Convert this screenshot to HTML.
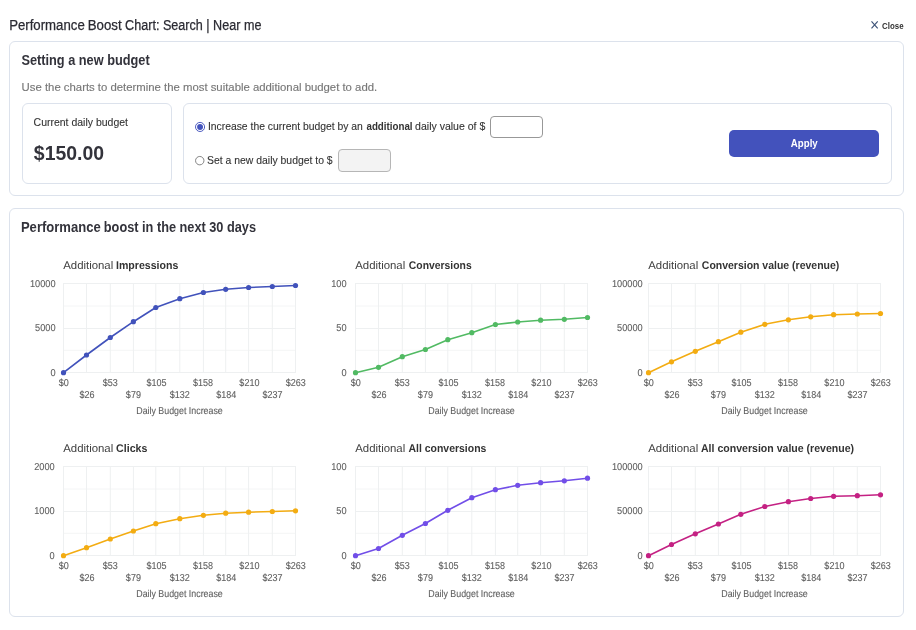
<!DOCTYPE html>
<html lang="en">
<head>
<meta charset="utf-8">
<title>Performance Boost Chart: Search | Near me</title>
<style>
*{box-sizing:border-box;margin:0;padding:0}
h1,h2,p,label{font:inherit}
html,body{width:916px;height:630px;background:#fff;overflow:hidden}
body{position:relative;font-family:"Liberation Sans", Arial, sans-serif;color:#333}
.t{position:absolute;left:0;white-space:nowrap;line-height:20px;height:20px;transform-origin:0 0;display:block;font-style:normal}
.panel{position:absolute;border:1px solid #dce2ec;border-radius:6px;background:#fff}
.box{position:absolute;border:1px solid #dce2ec;border-radius:6px;background:#fff}
.radio{position:absolute}
.inp{position:absolute;display:block;width:53px;height:22px;border:1px solid #989898;border-radius:4px;background:#fff;outline:0;padding:0 4px;font:11px "Liberation Sans",Arial,sans-serif;-webkit-appearance:none;appearance:none;box-shadow:none}
.inp.dis{border-color:#b6b6b6;background:#f3f3f3;height:23px}
.btn{position:absolute;left:729px;top:130px;width:150px;height:27px;border:0;border-radius:5px;background:#4352bc;font:inherit;cursor:pointer}
.charts{position:absolute;left:0;top:0}
.xicon{position:absolute;left:869px;top:19px}
</style>
</head>
<body>
<header>
<h1><span id="t-title-a" class="t" style="top:15px;font-size:14px;font-weight:400;color:#2b2b33;transform:translateX(9.15px) scaleX(0.9434);-webkit-text-stroke:0.25px #2b2b33">Performance</span> <span id="t-title-b" class="t" style="top:15px;font-size:14px;font-weight:400;color:#2b2b33;transform:translateX(87.69px) scaleX(0.9472);-webkit-text-stroke:0.25px #2b2b33">Boost</span> <span id="t-title-c" class="t" style="top:15px;font-size:14px;font-weight:400;color:#2b2b33;transform:translateX(125.11px) scaleX(0.8997);-webkit-text-stroke:0.25px #2b2b33">Chart: Search | Near me</span></h1>
<svg class="xicon" width="12" height="12" viewBox="0 0 12 12"><path d="M2.5 2.4L8.7 9.4M8.7 2.4L2.5 9.4" stroke="#3d5378" stroke-width="1.15" fill="none"/></svg>
<span id="t-close" class="t" style="top:16px;font-size:9px;font-weight:700;color:#333;transform:translateX(882.07px) scaleX(0.8755)">Close</span>
</header>
<section class="panel" style="left:9px;top:41px;width:895px;height:155px"></section>
<h2 id="t-h2a" class="t" style="top:50px;font-size:14px;font-weight:700;color:#33333b;transform:translateX(21.39px) scaleX(0.9110)">Setting a new budget</h2>
<p id="t-desc" class="t" style="top:77px;font-size:11.5px;font-weight:400;color:#787878;transform:translateX(21.61px) scaleX(0.9861);-webkit-text-stroke:0.15px #787878">Use the charts to determine the most suitable additional budget to add.</p>
<div class="box" style="left:22px;top:103px;width:150px;height:81px"></div>
<span id="t-cdb" class="t" style="top:112px;font-size:11px;font-weight:400;color:#333;transform:translateX(33.56px) scaleX(0.9535);-webkit-text-stroke:0.1px #333">Current daily budget</span>
<strong id="t-amt" class="t" style="top:143px;font-size:20px;font-weight:700;color:#33333b;transform:translateX(33.83px) scaleX(0.9712)">$150.00</strong>
<div class="box" style="left:183px;top:103px;width:709px;height:81px"></div>
<svg class="radio" width="14" height="14" viewBox="0 0 14 14" style="left:193px;top:120px"><circle cx="7.05" cy="6.95" r="4.55" fill="#fff" stroke="#4353bd" stroke-width="0.95"/><circle cx="7.05" cy="6.95" r="2.95" fill="#4353bd"/></svg>
<label><span id="t-r1a" class="t" style="top:116px;font-size:11px;font-weight:400;color:#333;transform:translateX(207.89px) scaleX(0.9419);-webkit-text-stroke:0.1px #333">Increase the current budget by an</span> <b id="t-r1b" class="t" style="top:116px;font-size:11px;font-weight:700;color:#333;transform:translateX(366.48px) scaleX(0.8870)">additional</b> <span id="t-r1c" class="t" style="top:116px;font-size:11px;font-weight:400;color:#333;transform:translateX(415.08px) scaleX(0.9572);-webkit-text-stroke:0.1px #333">daily value of $</span></label>
<input class="inp" type="text" aria-label="Additional daily value" style="left:490px;top:116px">
<svg class="radio" width="14" height="14" viewBox="0 0 14 14" style="left:193px;top:154px"><circle cx="6.75" cy="6.65" r="4.2" fill="#fff" stroke="#6f6f6f" stroke-width="0.85"/></svg>
<label><span id="t-r2" class="t" style="top:150px;font-size:11px;font-weight:400;color:#333;transform:translateX(207.04px) scaleX(0.9466);-webkit-text-stroke:0.1px #333">Set a new daily budget to $</span></label>
<input class="inp dis" type="text" aria-label="New daily budget" disabled style="left:338px;top:149px">
<button class="btn" type="button"><span id="t-apply" class="t" style="top:3px;font-size:11px;font-weight:700;color:#fff;transform:translateX(61.87px) scaleX(0.8787)">Apply</span></button>
<section class="panel" style="left:9px;top:208px;width:895px;height:409px"></section>
<h2><span id="t-h2b-a" class="t" style="top:217px;font-size:14px;font-weight:700;color:#33333b;transform:translateX(20.90px) scaleX(0.9330)">Performance</span> <span id="t-h2b-b" class="t" style="top:217px;font-size:14px;font-weight:700;color:#33333b;transform:translateX(103.82px) scaleX(0.9099)">boost in the next 30 days</span></h2>
<svg class="charts" width="916" height="630" viewBox="0 0 916 630" text-rendering="geometricPrecision" font-family='"Liberation Sans", Arial, sans-serif'>
<g class="chart" id="c1">
<text id="c1-ta" x="63.21" y="269.0" font-size="11.2" fill="#404040" textLength="50.04" lengthAdjust="spacingAndGlyphs">Additional</text>
<text id="c1-tb" x="116.00" y="269.0" font-size="11.2" font-weight="bold" fill="#333" textLength="62.36" lengthAdjust="spacingAndGlyphs">Impressions</text>
<path d="M63.00 306.00H296.00M63.00 350.30H296.00" stroke="#f4f5f6" stroke-width="1" fill="none"/>
<path d="M63.50 283.00V373.00M86.50 283.00V373.00M110.30 283.00V373.00M133.40 283.00V373.00M155.80 283.00V373.00M179.80 283.00V373.00M203.40 283.00V373.00M225.70 283.00V373.00M248.60 283.00V373.00M272.30 283.00V373.00M295.50 283.00V373.00M63.00 283.50H296.00M63.00 328.50H296.00M63.00 372.50H296.00" stroke="#eef0f1" stroke-width="1" fill="none"/>
<text class="yl" x="29.95" y="286.95" font-size="10" fill="#5e5e5e" stroke="#5e5e5e" stroke-width="0.1" textLength="25.60" lengthAdjust="spacingAndGlyphs">10000</text>
<text class="yl" x="35.07" y="331.45" font-size="10" fill="#5e5e5e" stroke="#5e5e5e" stroke-width="0.1" textLength="20.48" lengthAdjust="spacingAndGlyphs">5000</text>
<text class="yl" x="50.43" y="375.95" font-size="10" fill="#5e5e5e" stroke="#5e5e5e" stroke-width="0.1" textLength="5.12" lengthAdjust="spacingAndGlyphs">0</text>
<text class="xl" x="58.78" y="385.80" font-size="10" fill="#5e5e5e" stroke="#5e5e5e" stroke-width="0.1" textLength="10.04" lengthAdjust="spacingAndGlyphs">$0</text>
<text class="xl" x="79.47" y="398.00" font-size="10" fill="#5e5e5e" stroke="#5e5e5e" stroke-width="0.1" textLength="15.06" lengthAdjust="spacingAndGlyphs">$26</text>
<text class="xl" x="102.67" y="385.80" font-size="10" fill="#5e5e5e" stroke="#5e5e5e" stroke-width="0.1" textLength="15.06" lengthAdjust="spacingAndGlyphs">$53</text>
<text class="xl" x="125.87" y="398.00" font-size="10" fill="#5e5e5e" stroke="#5e5e5e" stroke-width="0.1" textLength="15.06" lengthAdjust="spacingAndGlyphs">$79</text>
<text class="xl" x="146.56" y="385.80" font-size="10" fill="#5e5e5e" stroke="#5e5e5e" stroke-width="0.1" textLength="20.08" lengthAdjust="spacingAndGlyphs">$105</text>
<text class="xl" x="169.76" y="398.00" font-size="10" fill="#5e5e5e" stroke="#5e5e5e" stroke-width="0.1" textLength="20.08" lengthAdjust="spacingAndGlyphs">$132</text>
<text class="xl" x="192.96" y="385.80" font-size="10" fill="#5e5e5e" stroke="#5e5e5e" stroke-width="0.1" textLength="20.08" lengthAdjust="spacingAndGlyphs">$158</text>
<text class="xl" x="216.16" y="398.00" font-size="10" fill="#5e5e5e" stroke="#5e5e5e" stroke-width="0.1" textLength="20.08" lengthAdjust="spacingAndGlyphs">$184</text>
<text class="xl" x="239.36" y="385.80" font-size="10" fill="#5e5e5e" stroke="#5e5e5e" stroke-width="0.1" textLength="20.08" lengthAdjust="spacingAndGlyphs">$210</text>
<text class="xl" x="262.56" y="398.00" font-size="10" fill="#5e5e5e" stroke="#5e5e5e" stroke-width="0.1" textLength="20.08" lengthAdjust="spacingAndGlyphs">$237</text>
<text class="xl" x="285.76" y="385.80" font-size="10" fill="#5e5e5e" stroke="#5e5e5e" stroke-width="0.1" textLength="20.08" lengthAdjust="spacingAndGlyphs">$263</text>
<text id="c1-ax" x="136.25" y="413.9" font-size="10" fill="#5e5e5e" stroke="#5e5e5e" stroke-width="0.1" textLength="86.55" lengthAdjust="spacingAndGlyphs">Daily Budget Increase</text>
<polyline points="63.5,372.70 86.5,355.00 110.3,337.50 133.4,321.70 155.8,307.50 179.8,298.70 203.4,292.50 225.7,289.30 248.6,287.50 272.3,286.50 295.5,285.50" fill="none" stroke="#4152bb" stroke-width="1.6" stroke-linejoin="round" stroke-linecap="round"/>
<circle cx="63.5" cy="372.70" r="2.6" fill="#4152bb"/>
<circle cx="86.5" cy="355.00" r="2.6" fill="#4152bb"/>
<circle cx="110.3" cy="337.50" r="2.6" fill="#4152bb"/>
<circle cx="133.4" cy="321.70" r="2.6" fill="#4152bb"/>
<circle cx="155.8" cy="307.50" r="2.6" fill="#4152bb"/>
<circle cx="179.8" cy="298.70" r="2.6" fill="#4152bb"/>
<circle cx="203.4" cy="292.50" r="2.6" fill="#4152bb"/>
<circle cx="225.7" cy="289.30" r="2.6" fill="#4152bb"/>
<circle cx="248.6" cy="287.50" r="2.6" fill="#4152bb"/>
<circle cx="272.3" cy="286.50" r="2.6" fill="#4152bb"/>
<circle cx="295.5" cy="285.50" r="2.6" fill="#4152bb"/>
</g>
<g class="chart" id="c2">
<text id="c2-ta" x="355.21" y="269.0" font-size="11.2" fill="#404040" textLength="50.04" lengthAdjust="spacingAndGlyphs">Additional</text>
<text id="c2-tb" x="408.87" y="269.0" font-size="11.2" font-weight="bold" fill="#333" textLength="62.83" lengthAdjust="spacingAndGlyphs">Conversions</text>
<path d="M355.00 306.00H588.00M355.00 350.30H588.00" stroke="#f4f5f6" stroke-width="1" fill="none"/>
<path d="M355.50 283.00V373.00M378.50 283.00V373.00M402.30 283.00V373.00M425.40 283.00V373.00M447.80 283.00V373.00M471.80 283.00V373.00M495.40 283.00V373.00M517.70 283.00V373.00M540.60 283.00V373.00M564.30 283.00V373.00M587.50 283.00V373.00M355.00 283.50H588.00M355.00 328.50H588.00M355.00 372.50H588.00" stroke="#eef0f1" stroke-width="1" fill="none"/>
<text class="yl" x="331.24" y="286.95" font-size="10" fill="#5e5e5e" stroke="#5e5e5e" stroke-width="0.1" textLength="15.36" lengthAdjust="spacingAndGlyphs">100</text>
<text class="yl" x="336.36" y="331.45" font-size="10" fill="#5e5e5e" stroke="#5e5e5e" stroke-width="0.1" textLength="10.24" lengthAdjust="spacingAndGlyphs">50</text>
<text class="yl" x="341.48" y="375.95" font-size="10" fill="#5e5e5e" stroke="#5e5e5e" stroke-width="0.1" textLength="5.12" lengthAdjust="spacingAndGlyphs">0</text>
<text class="xl" x="350.78" y="385.80" font-size="10" fill="#5e5e5e" stroke="#5e5e5e" stroke-width="0.1" textLength="10.04" lengthAdjust="spacingAndGlyphs">$0</text>
<text class="xl" x="371.47" y="398.00" font-size="10" fill="#5e5e5e" stroke="#5e5e5e" stroke-width="0.1" textLength="15.06" lengthAdjust="spacingAndGlyphs">$26</text>
<text class="xl" x="394.67" y="385.80" font-size="10" fill="#5e5e5e" stroke="#5e5e5e" stroke-width="0.1" textLength="15.06" lengthAdjust="spacingAndGlyphs">$53</text>
<text class="xl" x="417.87" y="398.00" font-size="10" fill="#5e5e5e" stroke="#5e5e5e" stroke-width="0.1" textLength="15.06" lengthAdjust="spacingAndGlyphs">$79</text>
<text class="xl" x="438.56" y="385.80" font-size="10" fill="#5e5e5e" stroke="#5e5e5e" stroke-width="0.1" textLength="20.08" lengthAdjust="spacingAndGlyphs">$105</text>
<text class="xl" x="461.76" y="398.00" font-size="10" fill="#5e5e5e" stroke="#5e5e5e" stroke-width="0.1" textLength="20.08" lengthAdjust="spacingAndGlyphs">$132</text>
<text class="xl" x="484.96" y="385.80" font-size="10" fill="#5e5e5e" stroke="#5e5e5e" stroke-width="0.1" textLength="20.08" lengthAdjust="spacingAndGlyphs">$158</text>
<text class="xl" x="508.16" y="398.00" font-size="10" fill="#5e5e5e" stroke="#5e5e5e" stroke-width="0.1" textLength="20.08" lengthAdjust="spacingAndGlyphs">$184</text>
<text class="xl" x="531.36" y="385.80" font-size="10" fill="#5e5e5e" stroke="#5e5e5e" stroke-width="0.1" textLength="20.08" lengthAdjust="spacingAndGlyphs">$210</text>
<text class="xl" x="554.56" y="398.00" font-size="10" fill="#5e5e5e" stroke="#5e5e5e" stroke-width="0.1" textLength="20.08" lengthAdjust="spacingAndGlyphs">$237</text>
<text class="xl" x="577.76" y="385.80" font-size="10" fill="#5e5e5e" stroke="#5e5e5e" stroke-width="0.1" textLength="20.08" lengthAdjust="spacingAndGlyphs">$263</text>
<text id="c2-ax" x="428.25" y="413.9" font-size="10" fill="#5e5e5e" stroke="#5e5e5e" stroke-width="0.1" textLength="86.55" lengthAdjust="spacingAndGlyphs">Daily Budget Increase</text>
<polyline points="355.5,372.70 378.5,367.30 402.3,356.70 425.4,349.50 447.8,339.70 471.8,332.70 495.4,324.50 517.7,322.00 540.6,320.20 564.3,319.30 587.5,317.50" fill="none" stroke="#51ba63" stroke-width="1.6" stroke-linejoin="round" stroke-linecap="round"/>
<circle cx="355.5" cy="372.70" r="2.6" fill="#51ba63"/>
<circle cx="378.5" cy="367.30" r="2.6" fill="#51ba63"/>
<circle cx="402.3" cy="356.70" r="2.6" fill="#51ba63"/>
<circle cx="425.4" cy="349.50" r="2.6" fill="#51ba63"/>
<circle cx="447.8" cy="339.70" r="2.6" fill="#51ba63"/>
<circle cx="471.8" cy="332.70" r="2.6" fill="#51ba63"/>
<circle cx="495.4" cy="324.50" r="2.6" fill="#51ba63"/>
<circle cx="517.7" cy="322.00" r="2.6" fill="#51ba63"/>
<circle cx="540.6" cy="320.20" r="2.6" fill="#51ba63"/>
<circle cx="564.3" cy="319.30" r="2.6" fill="#51ba63"/>
<circle cx="587.5" cy="317.50" r="2.6" fill="#51ba63"/>
</g>
<g class="chart" id="c3">
<text id="c3-ta" x="648.21" y="269.0" font-size="11.2" fill="#404040" textLength="50.04" lengthAdjust="spacingAndGlyphs">Additional</text>
<text id="c3-tb" x="701.82" y="269.0" font-size="11.2" font-weight="bold" fill="#333" textLength="137.45" lengthAdjust="spacingAndGlyphs">Conversion value (revenue)</text>
<path d="M648.00 306.00H881.00M648.00 350.30H881.00" stroke="#f4f5f6" stroke-width="1" fill="none"/>
<path d="M648.50 283.00V373.00M671.50 283.00V373.00M695.30 283.00V373.00M718.40 283.00V373.00M740.80 283.00V373.00M764.80 283.00V373.00M788.40 283.00V373.00M810.70 283.00V373.00M833.60 283.00V373.00M857.30 283.00V373.00M880.50 283.00V373.00M648.00 283.50H881.00M648.00 328.50H881.00M648.00 372.50H881.00" stroke="#eef0f1" stroke-width="1" fill="none"/>
<text class="yl" x="611.98" y="286.95" font-size="10" fill="#5e5e5e" stroke="#5e5e5e" stroke-width="0.1" textLength="30.72" lengthAdjust="spacingAndGlyphs">100000</text>
<text class="yl" x="617.10" y="331.45" font-size="10" fill="#5e5e5e" stroke="#5e5e5e" stroke-width="0.1" textLength="25.60" lengthAdjust="spacingAndGlyphs">50000</text>
<text class="yl" x="637.58" y="375.95" font-size="10" fill="#5e5e5e" stroke="#5e5e5e" stroke-width="0.1" textLength="5.12" lengthAdjust="spacingAndGlyphs">0</text>
<text class="xl" x="643.78" y="385.80" font-size="10" fill="#5e5e5e" stroke="#5e5e5e" stroke-width="0.1" textLength="10.04" lengthAdjust="spacingAndGlyphs">$0</text>
<text class="xl" x="664.47" y="398.00" font-size="10" fill="#5e5e5e" stroke="#5e5e5e" stroke-width="0.1" textLength="15.06" lengthAdjust="spacingAndGlyphs">$26</text>
<text class="xl" x="687.67" y="385.80" font-size="10" fill="#5e5e5e" stroke="#5e5e5e" stroke-width="0.1" textLength="15.06" lengthAdjust="spacingAndGlyphs">$53</text>
<text class="xl" x="710.87" y="398.00" font-size="10" fill="#5e5e5e" stroke="#5e5e5e" stroke-width="0.1" textLength="15.06" lengthAdjust="spacingAndGlyphs">$79</text>
<text class="xl" x="731.56" y="385.80" font-size="10" fill="#5e5e5e" stroke="#5e5e5e" stroke-width="0.1" textLength="20.08" lengthAdjust="spacingAndGlyphs">$105</text>
<text class="xl" x="754.76" y="398.00" font-size="10" fill="#5e5e5e" stroke="#5e5e5e" stroke-width="0.1" textLength="20.08" lengthAdjust="spacingAndGlyphs">$132</text>
<text class="xl" x="777.96" y="385.80" font-size="10" fill="#5e5e5e" stroke="#5e5e5e" stroke-width="0.1" textLength="20.08" lengthAdjust="spacingAndGlyphs">$158</text>
<text class="xl" x="801.16" y="398.00" font-size="10" fill="#5e5e5e" stroke="#5e5e5e" stroke-width="0.1" textLength="20.08" lengthAdjust="spacingAndGlyphs">$184</text>
<text class="xl" x="824.36" y="385.80" font-size="10" fill="#5e5e5e" stroke="#5e5e5e" stroke-width="0.1" textLength="20.08" lengthAdjust="spacingAndGlyphs">$210</text>
<text class="xl" x="847.56" y="398.00" font-size="10" fill="#5e5e5e" stroke="#5e5e5e" stroke-width="0.1" textLength="20.08" lengthAdjust="spacingAndGlyphs">$237</text>
<text class="xl" x="870.76" y="385.80" font-size="10" fill="#5e5e5e" stroke="#5e5e5e" stroke-width="0.1" textLength="20.08" lengthAdjust="spacingAndGlyphs">$263</text>
<text id="c3-ax" x="721.25" y="413.9" font-size="10" fill="#5e5e5e" stroke="#5e5e5e" stroke-width="0.1" textLength="86.55" lengthAdjust="spacingAndGlyphs">Daily Budget Increase</text>
<polyline points="648.5,372.70 671.5,361.80 695.3,351.30 718.4,341.70 740.8,332.20 764.8,324.30 788.4,319.80 810.7,316.80 833.6,314.70 857.3,314.00 880.5,313.50" fill="none" stroke="#f3ac12" stroke-width="1.6" stroke-linejoin="round" stroke-linecap="round"/>
<circle cx="648.5" cy="372.70" r="2.6" fill="#f3ac12"/>
<circle cx="671.5" cy="361.80" r="2.6" fill="#f3ac12"/>
<circle cx="695.3" cy="351.30" r="2.6" fill="#f3ac12"/>
<circle cx="718.4" cy="341.70" r="2.6" fill="#f3ac12"/>
<circle cx="740.8" cy="332.20" r="2.6" fill="#f3ac12"/>
<circle cx="764.8" cy="324.30" r="2.6" fill="#f3ac12"/>
<circle cx="788.4" cy="319.80" r="2.6" fill="#f3ac12"/>
<circle cx="810.7" cy="316.80" r="2.6" fill="#f3ac12"/>
<circle cx="833.6" cy="314.70" r="2.6" fill="#f3ac12"/>
<circle cx="857.3" cy="314.00" r="2.6" fill="#f3ac12"/>
<circle cx="880.5" cy="313.50" r="2.6" fill="#f3ac12"/>
</g>
<g class="chart" id="c4">
<text id="c4-ta" x="63.21" y="452.0" font-size="11.2" fill="#404040" textLength="50.04" lengthAdjust="spacingAndGlyphs">Additional</text>
<text id="c4-tb" x="116.08" y="452.0" font-size="11.2" font-weight="bold" fill="#333" textLength="31.29" lengthAdjust="spacingAndGlyphs">Clicks</text>
<path d="M63.00 489.00H296.00M63.00 533.30H296.00" stroke="#f4f5f6" stroke-width="1" fill="none"/>
<path d="M63.50 466.00V556.00M86.50 466.00V556.00M110.30 466.00V556.00M133.40 466.00V556.00M155.80 466.00V556.00M179.80 466.00V556.00M203.40 466.00V556.00M225.70 466.00V556.00M248.60 466.00V556.00M272.30 466.00V556.00M295.50 466.00V556.00M63.00 466.50H296.00M63.00 511.50H296.00M63.00 555.50H296.00" stroke="#eef0f1" stroke-width="1" fill="none"/>
<text class="yl" x="34.22" y="469.95" font-size="10" fill="#5e5e5e" stroke="#5e5e5e" stroke-width="0.1" textLength="20.48" lengthAdjust="spacingAndGlyphs">2000</text>
<text class="yl" x="34.22" y="514.45" font-size="10" fill="#5e5e5e" stroke="#5e5e5e" stroke-width="0.1" textLength="20.48" lengthAdjust="spacingAndGlyphs">1000</text>
<text class="yl" x="49.58" y="558.95" font-size="10" fill="#5e5e5e" stroke="#5e5e5e" stroke-width="0.1" textLength="5.12" lengthAdjust="spacingAndGlyphs">0</text>
<text class="xl" x="58.78" y="568.80" font-size="10" fill="#5e5e5e" stroke="#5e5e5e" stroke-width="0.1" textLength="10.04" lengthAdjust="spacingAndGlyphs">$0</text>
<text class="xl" x="79.47" y="581.00" font-size="10" fill="#5e5e5e" stroke="#5e5e5e" stroke-width="0.1" textLength="15.06" lengthAdjust="spacingAndGlyphs">$26</text>
<text class="xl" x="102.67" y="568.80" font-size="10" fill="#5e5e5e" stroke="#5e5e5e" stroke-width="0.1" textLength="15.06" lengthAdjust="spacingAndGlyphs">$53</text>
<text class="xl" x="125.87" y="581.00" font-size="10" fill="#5e5e5e" stroke="#5e5e5e" stroke-width="0.1" textLength="15.06" lengthAdjust="spacingAndGlyphs">$79</text>
<text class="xl" x="146.56" y="568.80" font-size="10" fill="#5e5e5e" stroke="#5e5e5e" stroke-width="0.1" textLength="20.08" lengthAdjust="spacingAndGlyphs">$105</text>
<text class="xl" x="169.76" y="581.00" font-size="10" fill="#5e5e5e" stroke="#5e5e5e" stroke-width="0.1" textLength="20.08" lengthAdjust="spacingAndGlyphs">$132</text>
<text class="xl" x="192.96" y="568.80" font-size="10" fill="#5e5e5e" stroke="#5e5e5e" stroke-width="0.1" textLength="20.08" lengthAdjust="spacingAndGlyphs">$158</text>
<text class="xl" x="216.16" y="581.00" font-size="10" fill="#5e5e5e" stroke="#5e5e5e" stroke-width="0.1" textLength="20.08" lengthAdjust="spacingAndGlyphs">$184</text>
<text class="xl" x="239.36" y="568.80" font-size="10" fill="#5e5e5e" stroke="#5e5e5e" stroke-width="0.1" textLength="20.08" lengthAdjust="spacingAndGlyphs">$210</text>
<text class="xl" x="262.56" y="581.00" font-size="10" fill="#5e5e5e" stroke="#5e5e5e" stroke-width="0.1" textLength="20.08" lengthAdjust="spacingAndGlyphs">$237</text>
<text class="xl" x="285.76" y="568.80" font-size="10" fill="#5e5e5e" stroke="#5e5e5e" stroke-width="0.1" textLength="20.08" lengthAdjust="spacingAndGlyphs">$263</text>
<text id="c4-ax" x="136.25" y="596.9" font-size="10" fill="#5e5e5e" stroke="#5e5e5e" stroke-width="0.1" textLength="86.55" lengthAdjust="spacingAndGlyphs">Daily Budget Increase</text>
<polyline points="63.5,555.70 86.5,547.70 110.3,539.00 133.4,531.00 155.8,523.70 179.8,518.70 203.4,515.30 225.7,513.20 248.6,512.20 272.3,511.50 295.5,510.80" fill="none" stroke="#f3ac12" stroke-width="1.6" stroke-linejoin="round" stroke-linecap="round"/>
<circle cx="63.5" cy="555.70" r="2.6" fill="#f3ac12"/>
<circle cx="86.5" cy="547.70" r="2.6" fill="#f3ac12"/>
<circle cx="110.3" cy="539.00" r="2.6" fill="#f3ac12"/>
<circle cx="133.4" cy="531.00" r="2.6" fill="#f3ac12"/>
<circle cx="155.8" cy="523.70" r="2.6" fill="#f3ac12"/>
<circle cx="179.8" cy="518.70" r="2.6" fill="#f3ac12"/>
<circle cx="203.4" cy="515.30" r="2.6" fill="#f3ac12"/>
<circle cx="225.7" cy="513.20" r="2.6" fill="#f3ac12"/>
<circle cx="248.6" cy="512.20" r="2.6" fill="#f3ac12"/>
<circle cx="272.3" cy="511.50" r="2.6" fill="#f3ac12"/>
<circle cx="295.5" cy="510.80" r="2.6" fill="#f3ac12"/>
</g>
<g class="chart" id="c5">
<text id="c5-ta" x="355.21" y="452.0" font-size="11.2" fill="#404040" textLength="50.04" lengthAdjust="spacingAndGlyphs">Additional</text>
<text id="c5-tb" x="408.47" y="452.0" font-size="11.2" font-weight="bold" fill="#333" textLength="77.87" lengthAdjust="spacingAndGlyphs">All conversions</text>
<path d="M355.00 489.00H588.00M355.00 533.30H588.00" stroke="#f4f5f6" stroke-width="1" fill="none"/>
<path d="M355.50 466.00V556.00M378.50 466.00V556.00M402.30 466.00V556.00M425.40 466.00V556.00M447.80 466.00V556.00M471.80 466.00V556.00M495.40 466.00V556.00M517.70 466.00V556.00M540.60 466.00V556.00M564.30 466.00V556.00M587.50 466.00V556.00M355.00 466.50H588.00M355.00 511.50H588.00M355.00 555.50H588.00" stroke="#eef0f1" stroke-width="1" fill="none"/>
<text class="yl" x="331.24" y="469.95" font-size="10" fill="#5e5e5e" stroke="#5e5e5e" stroke-width="0.1" textLength="15.36" lengthAdjust="spacingAndGlyphs">100</text>
<text class="yl" x="336.36" y="514.45" font-size="10" fill="#5e5e5e" stroke="#5e5e5e" stroke-width="0.1" textLength="10.24" lengthAdjust="spacingAndGlyphs">50</text>
<text class="yl" x="341.48" y="558.95" font-size="10" fill="#5e5e5e" stroke="#5e5e5e" stroke-width="0.1" textLength="5.12" lengthAdjust="spacingAndGlyphs">0</text>
<text class="xl" x="350.78" y="568.80" font-size="10" fill="#5e5e5e" stroke="#5e5e5e" stroke-width="0.1" textLength="10.04" lengthAdjust="spacingAndGlyphs">$0</text>
<text class="xl" x="371.47" y="581.00" font-size="10" fill="#5e5e5e" stroke="#5e5e5e" stroke-width="0.1" textLength="15.06" lengthAdjust="spacingAndGlyphs">$26</text>
<text class="xl" x="394.67" y="568.80" font-size="10" fill="#5e5e5e" stroke="#5e5e5e" stroke-width="0.1" textLength="15.06" lengthAdjust="spacingAndGlyphs">$53</text>
<text class="xl" x="417.87" y="581.00" font-size="10" fill="#5e5e5e" stroke="#5e5e5e" stroke-width="0.1" textLength="15.06" lengthAdjust="spacingAndGlyphs">$79</text>
<text class="xl" x="438.56" y="568.80" font-size="10" fill="#5e5e5e" stroke="#5e5e5e" stroke-width="0.1" textLength="20.08" lengthAdjust="spacingAndGlyphs">$105</text>
<text class="xl" x="461.76" y="581.00" font-size="10" fill="#5e5e5e" stroke="#5e5e5e" stroke-width="0.1" textLength="20.08" lengthAdjust="spacingAndGlyphs">$132</text>
<text class="xl" x="484.96" y="568.80" font-size="10" fill="#5e5e5e" stroke="#5e5e5e" stroke-width="0.1" textLength="20.08" lengthAdjust="spacingAndGlyphs">$158</text>
<text class="xl" x="508.16" y="581.00" font-size="10" fill="#5e5e5e" stroke="#5e5e5e" stroke-width="0.1" textLength="20.08" lengthAdjust="spacingAndGlyphs">$184</text>
<text class="xl" x="531.36" y="568.80" font-size="10" fill="#5e5e5e" stroke="#5e5e5e" stroke-width="0.1" textLength="20.08" lengthAdjust="spacingAndGlyphs">$210</text>
<text class="xl" x="554.56" y="581.00" font-size="10" fill="#5e5e5e" stroke="#5e5e5e" stroke-width="0.1" textLength="20.08" lengthAdjust="spacingAndGlyphs">$237</text>
<text class="xl" x="577.76" y="568.80" font-size="10" fill="#5e5e5e" stroke="#5e5e5e" stroke-width="0.1" textLength="20.08" lengthAdjust="spacingAndGlyphs">$263</text>
<text id="c5-ax" x="428.25" y="596.9" font-size="10" fill="#5e5e5e" stroke="#5e5e5e" stroke-width="0.1" textLength="86.55" lengthAdjust="spacingAndGlyphs">Daily Budget Increase</text>
<polyline points="355.5,555.70 378.5,548.50 402.3,535.30 425.4,523.50 447.8,510.30 471.8,497.70 495.4,489.70 517.7,485.30 540.6,482.70 564.3,480.80 587.5,478.20" fill="none" stroke="#714ee8" stroke-width="1.6" stroke-linejoin="round" stroke-linecap="round"/>
<circle cx="355.5" cy="555.70" r="2.6" fill="#714ee8"/>
<circle cx="378.5" cy="548.50" r="2.6" fill="#714ee8"/>
<circle cx="402.3" cy="535.30" r="2.6" fill="#714ee8"/>
<circle cx="425.4" cy="523.50" r="2.6" fill="#714ee8"/>
<circle cx="447.8" cy="510.30" r="2.6" fill="#714ee8"/>
<circle cx="471.8" cy="497.70" r="2.6" fill="#714ee8"/>
<circle cx="495.4" cy="489.70" r="2.6" fill="#714ee8"/>
<circle cx="517.7" cy="485.30" r="2.6" fill="#714ee8"/>
<circle cx="540.6" cy="482.70" r="2.6" fill="#714ee8"/>
<circle cx="564.3" cy="480.80" r="2.6" fill="#714ee8"/>
<circle cx="587.5" cy="478.20" r="2.6" fill="#714ee8"/>
</g>
<g class="chart" id="c6">
<text id="c6-ta" x="648.21" y="452.0" font-size="11.2" fill="#404040" textLength="50.04" lengthAdjust="spacingAndGlyphs">Additional</text>
<text id="c6-tb" x="701.01" y="452.0" font-size="11.2" font-weight="bold" fill="#333" textLength="153.10" lengthAdjust="spacingAndGlyphs">All conversion value (revenue)</text>
<path d="M648.00 489.00H881.00M648.00 533.30H881.00" stroke="#f4f5f6" stroke-width="1" fill="none"/>
<path d="M648.50 466.00V556.00M671.50 466.00V556.00M695.30 466.00V556.00M718.40 466.00V556.00M740.80 466.00V556.00M764.80 466.00V556.00M788.40 466.00V556.00M810.70 466.00V556.00M833.60 466.00V556.00M857.30 466.00V556.00M880.50 466.00V556.00M648.00 466.50H881.00M648.00 511.50H881.00M648.00 555.50H881.00" stroke="#eef0f1" stroke-width="1" fill="none"/>
<text class="yl" x="611.98" y="469.95" font-size="10" fill="#5e5e5e" stroke="#5e5e5e" stroke-width="0.1" textLength="30.72" lengthAdjust="spacingAndGlyphs">100000</text>
<text class="yl" x="617.10" y="514.45" font-size="10" fill="#5e5e5e" stroke="#5e5e5e" stroke-width="0.1" textLength="25.60" lengthAdjust="spacingAndGlyphs">50000</text>
<text class="yl" x="637.58" y="558.95" font-size="10" fill="#5e5e5e" stroke="#5e5e5e" stroke-width="0.1" textLength="5.12" lengthAdjust="spacingAndGlyphs">0</text>
<text class="xl" x="643.78" y="568.80" font-size="10" fill="#5e5e5e" stroke="#5e5e5e" stroke-width="0.1" textLength="10.04" lengthAdjust="spacingAndGlyphs">$0</text>
<text class="xl" x="664.47" y="581.00" font-size="10" fill="#5e5e5e" stroke="#5e5e5e" stroke-width="0.1" textLength="15.06" lengthAdjust="spacingAndGlyphs">$26</text>
<text class="xl" x="687.67" y="568.80" font-size="10" fill="#5e5e5e" stroke="#5e5e5e" stroke-width="0.1" textLength="15.06" lengthAdjust="spacingAndGlyphs">$53</text>
<text class="xl" x="710.87" y="581.00" font-size="10" fill="#5e5e5e" stroke="#5e5e5e" stroke-width="0.1" textLength="15.06" lengthAdjust="spacingAndGlyphs">$79</text>
<text class="xl" x="731.56" y="568.80" font-size="10" fill="#5e5e5e" stroke="#5e5e5e" stroke-width="0.1" textLength="20.08" lengthAdjust="spacingAndGlyphs">$105</text>
<text class="xl" x="754.76" y="581.00" font-size="10" fill="#5e5e5e" stroke="#5e5e5e" stroke-width="0.1" textLength="20.08" lengthAdjust="spacingAndGlyphs">$132</text>
<text class="xl" x="777.96" y="568.80" font-size="10" fill="#5e5e5e" stroke="#5e5e5e" stroke-width="0.1" textLength="20.08" lengthAdjust="spacingAndGlyphs">$158</text>
<text class="xl" x="801.16" y="581.00" font-size="10" fill="#5e5e5e" stroke="#5e5e5e" stroke-width="0.1" textLength="20.08" lengthAdjust="spacingAndGlyphs">$184</text>
<text class="xl" x="824.36" y="568.80" font-size="10" fill="#5e5e5e" stroke="#5e5e5e" stroke-width="0.1" textLength="20.08" lengthAdjust="spacingAndGlyphs">$210</text>
<text class="xl" x="847.56" y="581.00" font-size="10" fill="#5e5e5e" stroke="#5e5e5e" stroke-width="0.1" textLength="20.08" lengthAdjust="spacingAndGlyphs">$237</text>
<text class="xl" x="870.76" y="568.80" font-size="10" fill="#5e5e5e" stroke="#5e5e5e" stroke-width="0.1" textLength="20.08" lengthAdjust="spacingAndGlyphs">$263</text>
<text id="c6-ax" x="721.25" y="596.9" font-size="10" fill="#5e5e5e" stroke="#5e5e5e" stroke-width="0.1" textLength="86.55" lengthAdjust="spacingAndGlyphs">Daily Budget Increase</text>
<polyline points="648.5,555.70 671.5,544.50 695.3,533.80 718.4,524.00 740.8,514.30 764.8,506.50 788.4,501.70 810.7,498.50 833.6,496.30 857.3,495.70 880.5,494.80" fill="none" stroke="#c42183" stroke-width="1.6" stroke-linejoin="round" stroke-linecap="round"/>
<circle cx="648.5" cy="555.70" r="2.6" fill="#c42183"/>
<circle cx="671.5" cy="544.50" r="2.6" fill="#c42183"/>
<circle cx="695.3" cy="533.80" r="2.6" fill="#c42183"/>
<circle cx="718.4" cy="524.00" r="2.6" fill="#c42183"/>
<circle cx="740.8" cy="514.30" r="2.6" fill="#c42183"/>
<circle cx="764.8" cy="506.50" r="2.6" fill="#c42183"/>
<circle cx="788.4" cy="501.70" r="2.6" fill="#c42183"/>
<circle cx="810.7" cy="498.50" r="2.6" fill="#c42183"/>
<circle cx="833.6" cy="496.30" r="2.6" fill="#c42183"/>
<circle cx="857.3" cy="495.70" r="2.6" fill="#c42183"/>
<circle cx="880.5" cy="494.80" r="2.6" fill="#c42183"/>
</g>
</svg>
</body>
</html>
